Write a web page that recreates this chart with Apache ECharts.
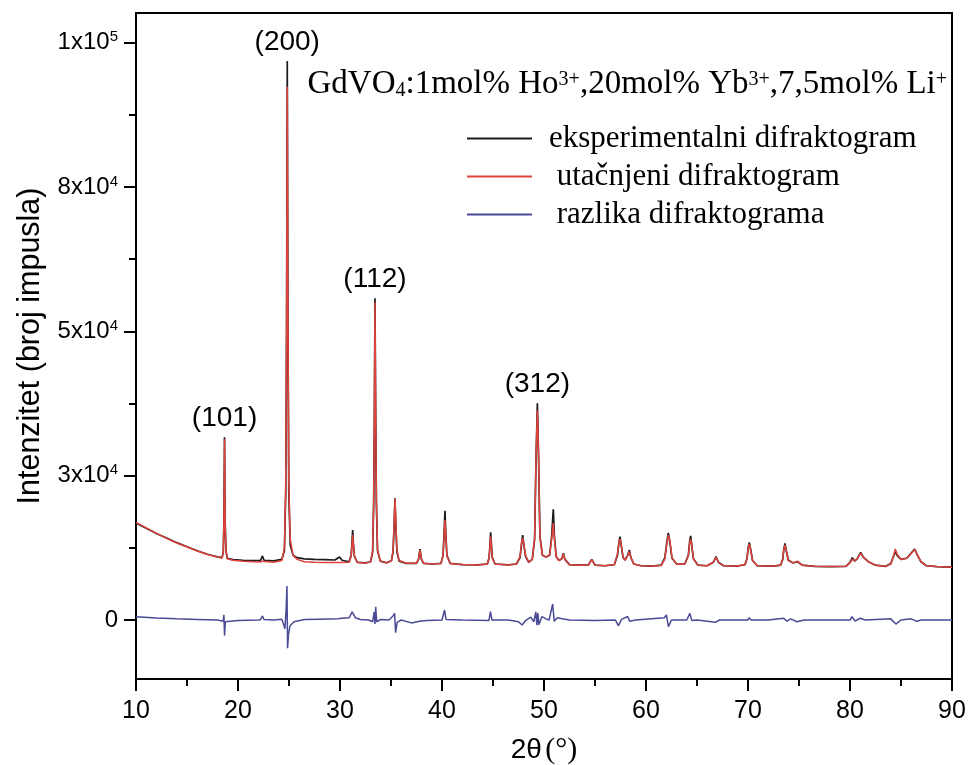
<!DOCTYPE html>
<html>
<head>
<meta charset="utf-8">
<script src="https://cdn.jsdelivr.net/npm/echarts@6.0.0/dist/echarts.min.js"></script>
<style>html,body{margin:0;padding:0;background:#fff}#chart{width:968px;height:765px}</style>
</head>
<body>
<div id="chart"></div>
<script>
// ---- data: [2θ (°), intensity (counts)] ----
const observedPattern = [
[10,16800],[11,15900],[12,15000],[13,14200],[14,13400],[15,12700],[16,12000],[17,11400],[18,10950],[18.45,10800],[18.56,12000],[18.62,17000],[18.68,31650],[18.74,17000],[18.82,12000],[18.95,10700],[19.5,10450],[20.5,10350],[21.5,10300],[22.2,10280],[22.4,11100],[22.55,10350],[23.5,10250],[24.3,10500],[24.55,12000],[24.68,22000],[24.76,50000],[24.83,96850],[24.9,50000],[24.98,22000],[25.12,13000],[25.4,11200],[25.8,10800],[26.5,10600],[27.5,10500],[28.5,10450],[29.5,10400],[29.95,10900],[30.2,10350],[30.9,10100],[31.1,11300],[31.17,13200],[31.24,15600],[31.32,13000],[31.42,11000],[31.7,10000],[32.5,9900],[33.0,10100],[33.2,11800],[33.3,20000],[33.37,35000],[33.43,55740],[33.5,35000],[33.57,20000],[33.68,12000],[33.95,10200],[34.6,9900],[35.05,10300],[35.2,11800],[35.3,16000],[35.39,21090],[35.48,16000],[35.58,11800],[35.8,10200],[36.5,9800],[37.5,9800],[37.7,10500],[37.84,12300],[37.98,10500],[38.2,9800],[39,9700],[39.9,9800],[40.1,11200],[40.2,14800],[40.29,18940],[40.38,14800],[40.48,11200],[40.8,9800],[42,9600],[43.5,9550],[44.45,9700],[44.62,10800],[44.7,13000],[44.77,15190],[44.85,13000],[44.93,10800],[45.2,9700],[46.5,9550],[47.3,9700],[47.65,10800],[47.8,13200],[47.91,14730],[48.02,13000],[48.2,11000],[48.5,10000],[48.85,10500],[49.08,14000],[49.22,28000],[49.35,37540],[49.47,28000],[49.6,14500],[49.85,11200],[50.2,10900],[50.55,11200],[50.75,14500],[50.91,19180],[51.02,14500],[51.2,11000],[51.45,10300],[51.75,10600],[51.9,11550],[52.05,10500],[52.5,9600],[53.5,9500],[54.35,9500],[54.68,10510],[55.0,9500],[56.0,9400],[56.9,9600],[57.2,11200],[57.35,13400],[57.45,14430],[57.57,13000],[57.75,10800],[57.95,10400],[58.2,11200],[58.37,12130],[58.52,10800],[58.8,9700],[59.5,9400],[60.5,9350],[61.5,9500],[61.85,10800],[62.05,13600],[62.19,15100],[62.33,13600],[62.55,10700],[63.0,9700],[63.8,9700],[64.15,11200],[64.28,13600],[64.38,14570],[64.48,13000],[64.65,10600],[65.1,9500],[66.0,9400],[66.6,10000],[66.86,10970],[67.1,10000],[67.6,9400],[69,9350],[69.7,9600],[69.9,10600],[70.02,12600],[70.13,13460],[70.25,12300],[70.45,10300],[70.9,9400],[72.5,9350],[73.2,9500],[73.4,10500],[73.52,12400],[73.63,13280],[73.75,12000],[73.95,10400],[74.4,9900],[74.87,10100],[75.3,9500],[76.5,9300],[78,9250],[79.6,9300],[80.0,10000],[80.23,10790],[80.45,10200],[80.7,10600],[81.05,11730],[81.3,10900],[81.8,10100],[82.5,9500],[83.5,9300],[84.0,9800],[84.3,11200],[84.44,11830],[84.65,11100],[85.0,10500],[85.56,10700],[85.9,11400],[86.34,12300],[86.6,11300],[86.95,10100],[87.5,9400],[88.5,9250],[90,9150]
];
const calculatedPattern = [
[10,16900],[11,15950],[12,15000],[13,14150],[14,13350],[15,12650],[16,11950],[17,11350],[18,10900],[18.45,10750],[18.56,12000],[18.62,17000],[18.68,31300],[18.74,17000],[18.82,12000],[18.95,10600],[19.5,10350],[20.5,10200],[21.5,10100],[22.2,10050],[22.4,10200],[22.55,10050],[23.5,10000],[24.3,10300],[24.55,12500],[24.68,23000],[24.76,50000],[24.83,92400],[24.9,52000],[24.98,24000],[25.12,14000],[25.4,11200],[25.8,10500],[26.5,10100],[27.5,10000],[28.5,9950],[29.5,9950],[29.95,9950],[30.2,9950],[30.9,10000],[31.1,11100],[31.17,12800],[31.24,14700],[31.32,12800],[31.42,11000],[31.7,10000],[32.5,9850],[33.0,10100],[33.2,12000],[33.3,20500],[33.37,35000],[33.43,55000],[33.5,35500],[33.57,20500],[33.68,12200],[33.95,10200],[34.6,9900],[35.05,10300],[35.2,12000],[35.3,16200],[35.39,21000],[35.48,16800],[35.58,12200],[35.8,10300],[36.5,9850],[37.5,9850],[37.7,10600],[37.84,12100],[37.98,10600],[38.2,9850],[39,9700],[39.9,9800],[40.1,11100],[40.2,14400],[40.29,17300],[40.38,14400],[40.48,11100],[40.8,9800],[42,9600],[43.5,9550],[44.45,9700],[44.62,10800],[44.7,12700],[44.77,14500],[44.85,12700],[44.93,10800],[45.2,9700],[46.5,9550],[47.3,9700],[47.65,11000],[47.8,13400],[47.91,14200],[48.02,13200],[48.2,11100],[48.5,10000],[48.85,10500],[49.08,14200],[49.22,28500],[49.35,36400],[49.47,28500],[49.6,14300],[49.85,11200],[50.2,10900],[50.55,11300],[50.75,14000],[50.91,16800],[51.02,14000],[51.2,11000],[51.45,10300],[51.75,10600],[51.9,11400],[52.05,10500],[52.5,9600],[53.5,9500],[54.35,9500],[54.68,10450],[55.0,9500],[56.0,9400],[56.9,9600],[57.2,11400],[57.35,13600],[57.45,14000],[57.57,13000],[57.75,10900],[57.95,10400],[58.2,11100],[58.37,11900],[58.52,10800],[58.8,9700],[59.5,9400],[60.5,9350],[61.5,9450],[61.85,10600],[62.05,13300],[62.19,14700],[62.33,13900],[62.55,10800],[63.0,9700],[63.8,9700],[64.15,11100],[64.28,13300],[64.38,14000],[64.48,13000],[64.65,10600],[65.1,9500],[66.0,9400],[66.6,10050],[66.86,10900],[67.1,10050],[67.6,9400],[69,9350],[69.7,9600],[69.9,10600],[70.02,12500],[70.13,13200],[70.25,12300],[70.45,10300],[70.9,9400],[72.5,9350],[73.2,9500],[73.4,10500],[73.52,12300],[73.63,13000],[73.75,12100],[73.95,10300],[74.4,9900],[74.87,10200],[75.3,9500],[76.5,9300],[78,9250],[79.6,9300],[80.0,9900],[80.23,10500],[80.45,10300],[80.7,10600],[81.05,11600],[81.3,10900],[81.8,10100],[82.5,9500],[83.5,9300],[84.0,9700],[84.3,11300],[84.44,12300],[84.65,11300],[85.0,10500],[85.56,10700],[85.9,11300],[86.34,12200],[86.6,11300],[86.95,10100],[87.5,9400],[88.5,9250],[90,9150]
];
const differencePattern = [
[10,550],[12,350],[14,200],[16,100],[18,0],[18.55,-200],[18.62,900],[18.68,-2700],[18.76,-300],[18.9,-100],[20,-100],[22,0],[22.2,50],[22.4,700],[22.55,100],[23.5,0],[24.3,150],[24.6,-1500],[24.72,1800],[24.8,5900],[24.86,-4900],[24.95,-2500],[25.1,-1000],[25.5,-300],[26.5,100],[28,150],[29.8,200],[30.2,300],[30.9,400],[31.2,1400],[31.5,400],[32,100],[32.8,0],[33.2,-300],[33.35,1400],[33.43,-700],[33.5,2300],[33.6,-300],[34,100],[34.8,0],[35.2,700],[35.35,1160],[35.45,-2200],[35.6,-400],[36,0],[37,-500],[37.8,-200],[38.5,-100],[40,0],[40.25,1730],[40.4,100],[42,0],[44.6,-100],[44.75,1440],[44.9,0],[46.5,0],[47.5,-300],[47.85,-870],[48.2,-100],[48.7,500],[49.0,-300],[49.2,1400],[49.3,-900],[49.4,1200],[49.5,-800],[49.8,600],[50.2,200],[50.5,0],[50.85,2770],[51.0,-200],[51.3,400],[51.8,200],[52.5,0],[55,-100],[57.0,0],[57.3,-1000],[57.6,100],[58.2,600],[58.4,-200],[59,0],[61.8,400],[62.0,870],[62.2,-1150],[62.5,0],[64.0,0],[64.3,1150],[64.5,-100],[65,0],[66.8,-400],[67.2,0],[70,0],[70.1,400],[70.3,0],[72,0],[73.5,300],[73.8,-200],[74.2,200],[74.8,-300],[75.5,0],[80,0],[80.2,570],[80.5,-200],[81,300],[81.5,0],[84.0,200],[84.5,-700],[85,0],[86,200],[86.5,-200],[87,0],[90,0]
];
const peakLabels = ['(101)', '(200)', '(112)', '(312)'];
const peakPositions = [[18.68, 31650], [24.83, 96850], [33.43, 55740], [49.35, 37540]];
const seriesNames = ['eksperimentalni difraktogram', ' utačnjeni difraktogram', ' razlika difraktograma'];
const xTickValues = [10, 20, 30, 40, 50, 60, 70, 80, 90];
const yTickValues = [0, 25000, 50000, 75000, 100000];
const yTickLabels = ['0', '3x10^4', '5x10^4', '8x10^4', '1x10^5'];
const yMinorTickValues = [12500, 37500, 62500, 87500];
const subtitleText = 'GdVO{sub|4}:1mol% Ho{sup|3+},20mol% Yb{sup|3+},7,5mol% Li{sup|+}';

const chart = echarts.init(document.getElementById('chart'), null, {renderer: 'canvas'});
const SANS = 'Liberation Sans, Arial, sans-serif';
const SERIF = 'Liberation Serif, Times New Roman, serif';
const yMin = -10220, yMax = 105160;

const option = {
  animation: false,
  backgroundColor: '#fff',
  title: {
    text: subtitleText,
    right: 21, top: 67, padding: 0,
    textStyle: {
      fontFamily: SERIF, fontSize: 33, fontWeight: 'normal', color: '#000', lineHeight: 34,
      rich: {
        sub: {fontFamily: SERIF, fontSize: 20, verticalAlign: 'bottom', lineHeight: 20, color: '#000'},
        sup: {fontFamily: SERIF, fontSize: 20, verticalAlign: 'top', lineHeight: 20, padding: [3, 0, 0, 0], color: '#000'}
      }
    }
  },
  legend: {
    data: seriesNames,
    orient: 'vertical',
    left: 462, top: 118,
    itemWidth: 65, itemHeight: 2, itemGap: 7,
    icon: 'rect',
    textStyle: {fontFamily: SERIF, fontSize: 31, color: '#000', lineHeight: 30, padding: [0, 0, 0, 12]}
  },
  grid: {
    left: 136, right: 16, top: 13, bottom: 86,
    outerBoundsMode: 'none', containLabel: false,
    show: true, borderColor: '#000', borderWidth: 2, backgroundColor: 'transparent'
  },
  xAxis: {
    type: 'value', min: 10, max: 90, interval: 10,
    name: '{a|2θ} {b|(°)}', nameLocation: 'middle', nameGap: 56,
    nameTextStyle: {rich: {
      a: {fontFamily: SANS, fontSize: 28, color: '#000'},
      b: {fontFamily: SERIF, fontSize: 30, color: '#000'}
    }},
    axisLine: {show: true, onZero: false, lineStyle: {color: '#000', width: 2}},
    axisTick: {show: true, inside: false, length: 12, lineStyle: {color: '#000', width: 2}},
    minorTick: {show: true, splitNumber: 2, length: 7, lineStyle: {color: '#000', width: 2}},
    axisLabel: {fontFamily: SANS, fontSize: 25, color: '#000', margin: 20, customValues: xTickValues},
    splitLine: {show: false}, minorSplitLine: {show: false}
  },
  yAxis: [{
    type: 'value', min: yMin, max: yMax,
    name: 'Intenzitet (broj impusla)', nameLocation: 'middle', nameGap: 90,
    nameTextStyle: {fontFamily: SANS, fontSize: 30.5, color: '#000'},
    axisLine: {show: true, onZero: false, lineStyle: {color: '#000', width: 2}},
    axisTick: {show: true, inside: false, length: 12, customValues: yTickValues, lineStyle: {color: '#000', width: 2}},
    axisLabel: {
      fontFamily: SANS, fontSize: 24, color: '#000', margin: 18, customValues: yTickValues,
      formatter: function (v) {
        const i = yTickValues.indexOf(v);
        if (i < 0) return '';
        return yTickLabels[i].replace(/\^(\d+)/, '{s|$1}');
      },
      rich: {s: {fontFamily: SANS, fontSize: 15, verticalAlign: 'top', lineHeight: 26, color: '#000'}}
    },
    splitLine: {show: false}
  }, {
    type: 'value', min: yMin, max: yMax, position: 'left',
    axisLine: {show: false},
    axisTick: {show: true, inside: false, length: 7, customValues: yMinorTickValues, lineStyle: {color: '#000', width: 2}},
    axisLabel: {show: false},
    splitLine: {show: false}
  }],
  series: [{
    name: seriesNames[0], type: 'line', data: observedPattern, yAxisIndex: 0,
    symbol: 'none', lineStyle: {color: '#1b1b1b', width: 1.7}, itemStyle: {color: '#1b1b1b'},
    z: 2,
    markPoint: {
      symbol: 'circle', symbolSize: 0,
      label: {show: true, position: 'top', distance: 5, formatter: '{b}', fontFamily: SANS, fontSize: 28, color: '#000'},
      data: peakLabels.map((n, i) => ({name: n, coord: peakPositions[i]}))
    }
  }, {
    name: seriesNames[1], type: 'line', data: calculatedPattern, yAxisIndex: 0,
    symbol: 'none', lineStyle: {color: '#e0423c', width: 1.5}, itemStyle: {color: '#e0423c'},
    z: 3
  }, {
    name: seriesNames[2], type: 'line', data: differencePattern, yAxisIndex: 0,
    symbol: 'none', lineStyle: {color: '#4a4a96', width: 1.5}, itemStyle: {color: '#4a4a96'},
    z: 2
  }]
};
chart.setOption(option);
</script>
</body>
</html>
